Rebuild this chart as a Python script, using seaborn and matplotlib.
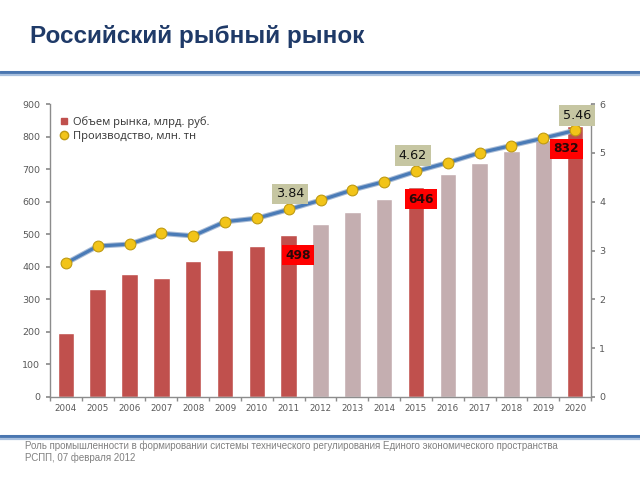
import matplotlib
matplotlib.use("Agg")
import matplotlib.pyplot as plt
import matplotlib.patheffects as pe
from matplotlib.lines import Line2D
import numpy as np
import pandas as pd
import seaborn as sns

years = ["2004", "2005", "2006", "2007", "2008", "2009", "2010", "2011", "2012",
         "2013", "2014", "2015", "2016", "2017", "2018", "2019", "2020"]
market_volume = [197, 332, 378, 366, 419, 453, 464, 498, 530, 569, 608, 646,
                 684, 720, 755, 788, 832]
production = [2.74, 3.09, 3.13, 3.35, 3.30, 3.59, 3.66, 3.84, 4.03, 4.24, 4.41,
              4.62, 4.80, 5.00, 5.15, 5.30, 5.46]
actual_flag = [1, 1, 1, 1, 1, 1, 1, 1, 0, 0, 0, 1, 0, 0, 0, 0, 1]
bar_labels = {"2011": 498, "2015": 646, "2020": 832}
line_labels = {"2011": 3.84, "2015": 4.62, "2020": 5.46}

title = "Российский рыбный рынок"
legend_bar = "Объем рынка, млрд. руб."
legend_line = "Производство, млн. тн"
footer1 = ("Роль промышленности в формировании системы технического регулирования "
           "Единого экономического пространства")
footer2 = "РСПП, 07 февраля 2012"

RED = "#C0504D"
PINK = "#C4AEB0"
BLUE = "#4A7BB7"
GOLD = "#F2C418"
TAN = "#C6C6A2"
GRAY = "#595959"
SPINE = "#8C8C8C"

df = pd.DataFrame({"year": years, "volume": market_volume, "prod": production,
                   "pos": np.arange(len(years))})
colors = [RED if f else PINK for f in actual_flag]

sns.set_theme(style="white")
plt.rcParams["font.family"] = ["DejaVu Sans"]

fig = plt.figure(figsize=(6.4, 4.8), dpi=100)
ax = fig.add_axes([50 / 640, 1 - 397 / 480, (591 - 50) / 640, (397 - 104) / 480])

sns.barplot(data=df, x="year", y="volume", hue="year", palette=colors,
            legend=False, ax=ax, width=0.52, saturation=1, zorder=2)
ax.set_xlim(-0.5, len(years) - 0.5)
ax.set_ylim(0, 900)
ax.set_yticks(np.arange(0, 901, 100))
ax.set_xlabel("")
ax.set_ylabel("")
ax.tick_params(axis="y", labelsize=6.8, colors=GRAY, length=3, direction="out",
               color=SPINE, left=True, pad=4)
ax.tick_params(axis="x", labelsize=6.3, colors=GRAY, length=0, pad=5)
ax.set_xticks(np.arange(len(years) + 1) - 0.5, minor=True)
ax.tick_params(axis="x", which="minor", length=3, color=SPINE, direction="out", bottom=True)
for s in ["top", "right"]:
    ax.spines[s].set_visible(False)
for s in ["left", "bottom"]:
    ax.spines[s].set_color(SPINE)
    ax.spines[s].set_linewidth(1.0)

ax2 = ax.twinx()
sns.lineplot(data=df, x="pos", y="prod", ax=ax2, color=BLUE, linewidth=2.3,
             path_effects=[pe.Stroke(linewidth=3.8, foreground="#A9BCD6"), pe.Normal()],
             zorder=3)
sns.scatterplot(data=df, x="pos", y="prod", ax=ax2, s=60, color=GOLD,
                edgecolor="#BF9A10", linewidth=0.8, zorder=4)
ax2.set_ylim(0, 6)
ax2.set_xlim(-0.5, len(years) - 0.5)
ax2.set_yticks(np.arange(0, 7, 1))
ax2.set_xlabel("")
ax2.set_ylabel("")
ax2.tick_params(axis="y", labelsize=6.8, colors=GRAY, length=3, direction="out",
                color=SPINE, right=True, pad=3)
for s in ["top", "left", "bottom"]:
    ax2.spines[s].set_visible(False)
ax2.spines["right"].set_color(SPINE)
ax2.spines["right"].set_linewidth(1.0)

# annotations
pos_of = {y: i for i, y in enumerate(years)}
bar_off = {"2011": (0.3, -62), "2015": (0.15, -38), "2020": (-0.27, -69)}
for yr, val in bar_labels.items():
    dx, dy = bar_off[yr]
    ax2.text(pos_of[yr] + dx, val + dy, str(val), transform=ax.transData,
             ha="center", va="center", fontsize=8.8, fontweight="bold",
             color="#2A0808", zorder=6,
             bbox=dict(boxstyle="square,pad=0.28", fc="#FF0000", ec="none"))
line_off = {"2011": (0.05, 0.32), "2015": (-0.1, 0.33), "2020": (0.05, 0.30)}
for yr, val in line_labels.items():
    dx, dy = line_off[yr]
    ax2.text(pos_of[yr] + dx, val + dy, f"{val:.2f}", ha="center", va="center",
             fontsize=9.2, color="#111111", zorder=5,
             bbox=dict(boxstyle="square,pad=0.3", fc=TAN, ec="none"))

# legend
handles = [Line2D([], [], marker="s", ls="none", color=RED, markersize=5),
           Line2D([], [], marker="o", ls="none", color=GOLD, markeredgecolor="#BF9A10",
                  markersize=6)]
leg = ax2.legend(handles, [legend_bar, legend_line], loc="upper left",
                 bbox_to_anchor=(0.005, 0.985), frameon=False, handlelength=0.7,
                 handletextpad=0.4, labelspacing=0.25, borderpad=0.2,
                 prop={"family": "Open Sans", "size": 8.0})
for t in leg.get_texts():
    t.set_color("#333333")

# title, rules, footer
fig.text(30 / 640, 1 - 36 / 480, title, fontsize=17.5, fontweight="bold",
         color="#1F3A68", family="Liberation Sans", va="center", ha="left")
for yy, c, lw in [(72, "#4A76B0", 2.2), (74.5, "#A9C0DE", 1.6),
                  (436, "#4A76B0", 2.2), (438.5, "#A9C0DE", 1.6)]:
    fig.add_artist(Line2D([0, 1], [1 - yy / 480, 1 - yy / 480], color=c, lw=lw,
                          transform=fig.transFigure))
fig.text(25 / 640, 1 - 446 / 480, footer1, fontsize=7, color="#808080",
         family="Liberation Sans", va="center", ha="left")
fig.text(25 / 640, 1 - 458 / 480, footer2, fontsize=7, color="#808080",
         family="Liberation Sans", va="center", ha="left")

fig.savefig("out.png", dpi=100)
